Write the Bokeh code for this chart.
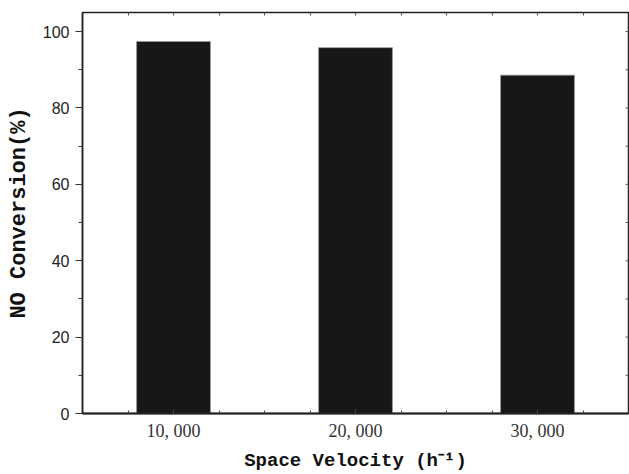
from bokeh.plotting import figure
from bokeh.models import FixedTicker, LinearAxis, Range1d
from bokeh.embed import file_html
from bokeh.resources import INLINE

# Data
categories = ["10, 000", "20, 000", "30, 000"]
positions = [1, 2, 3]
conversion = [97.4, 95.8, 88.6]
y_ticks = [0, 20, 40, 60, 80, 100]
y_minor = [10, 30, 50, 70, 90]
x_minor = [0.75, 1.25, 1.5, 1.75, 2.25, 2.5, 2.75, 3.25]

x_lo, x_hi = 0.5, 3.5

p = figure(frame_width=546, frame_height=401, x_range=Range1d(x_lo, x_hi), y_range=Range1d(0, 105),
           output_backend="svg", toolbar_location=None,
           min_border_left=82, min_border_right=1, min_border_top=12, min_border_bottom=61)
p.background_fill_color = "white"
p.border_fill_color = "white"
p.outline_line_color = "#222222"
p.outline_line_width = 1.5
p.xgrid.visible = False
p.ygrid.visible = False

p.vbar(x=positions, top=conversion, width=0.406, fill_color="#171717",
       line_color="#9a9a9a", line_width=0.8)

# right-edge inward ticks (mirror of the left axis)
right_ticks = y_ticks + y_minor
p.scatter(x=[x_hi] * len(right_ticks), y=right_ticks, marker="dash", size=6,
          line_color="#555555", line_width=1)

xt = FixedTicker(ticks=positions, minor_ticks=x_minor)
yt = FixedTicker(ticks=y_ticks, minor_ticks=y_minor)

# bottom axis
xa = p.xaxis[0]
xa.ticker = xt
xa.major_label_overrides = {pos: lab for pos, lab in zip(positions, categories)}
xa.major_tick_in = 4
xa.major_tick_out = 0
xa.minor_tick_in = 3
xa.minor_tick_out = 0
xa.axis_line_width = 2
xa.axis_line_color = "#222222"
xa.major_tick_line_color = "#444444"
xa.minor_tick_line_color = "#444444"
xa.major_label_text_font = "Liberation Serif"
xa.major_label_text_font_size = "18px"
xa.major_label_text_color = "#333333"
xa.major_label_standoff = 7
xa.axis_label = "Space Velocity (h\u207b\u00b9)"
xa.axis_label_text_font = "Liberation Mono"
xa.axis_label_text_font_style = "bold"
xa.axis_label_text_font_size = "19px"
xa.axis_label_text_color = "#111111"
xa.axis_label_standoff = 6

# left axis
ya = p.yaxis[0]
ya.ticker = yt
ya.major_tick_out = 7
ya.major_tick_in = 0
ya.minor_tick_out = 4
ya.minor_tick_in = 0
ya.axis_line_color = "#222222"
ya.axis_line_width = 1.5
ya.major_tick_line_color = "#333333"
ya.minor_tick_line_color = "#333333"
ya.major_label_text_font = "Liberation Sans"
ya.major_label_text_font_size = "16px"
ya.major_label_text_color = "#222222"
ya.major_label_standoff = 6
ya.axis_label = "NO Conversion(%)"
ya.axis_label_text_font = "Liberation Mono"
ya.axis_label_text_font_style = "bold"
ya.axis_label_text_font_size = "22px"
ya.axis_label_text_color = "#111111"
ya.axis_label_standoff = 8

# mirrored top axis with inward ticks and no labels
top = LinearAxis(ticker=xt)
top.major_label_text_font_size = "0px"
top.major_label_text_color = None
top.major_label_standoff = 0
top.major_tick_in = 3
top.major_tick_out = 0
top.minor_tick_in = 3
top.minor_tick_out = 0
top.axis_line_color = None
top.major_tick_line_color = "#555555"
top.minor_tick_line_color = "#555555"
p.add_layout(top, "above")

open("out.html", "w").write(file_html(p, INLINE))
